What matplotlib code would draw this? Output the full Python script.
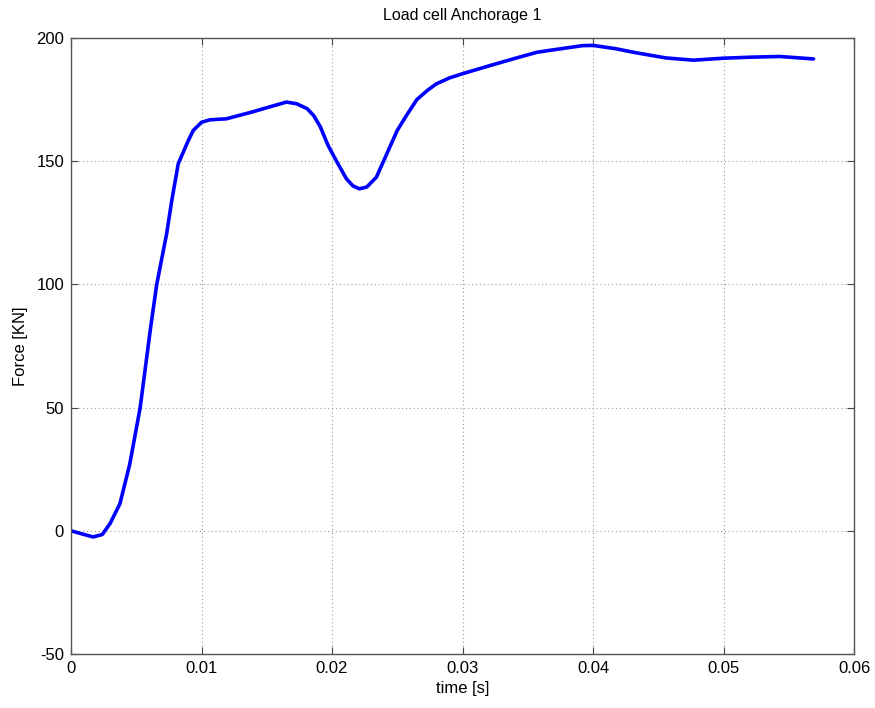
import matplotlib
matplotlib.use("Agg")
import matplotlib.pyplot as plt

# Load cell record, anchorage 1
time_s = [0.0, 0.0008, 0.0017, 0.0024, 0.0030, 0.00375, 0.0045, 0.0053, 0.0061,
          0.00657, 0.00733, 0.00772, 0.00822, 0.00899, 0.00937, 0.0100, 0.01065,
          0.0119, 0.0139, 0.0150, 0.0165, 0.0173, 0.0181, 0.0186, 0.0191,
          0.0197, 0.0204, 0.0211, 0.0216, 0.0221, 0.02266, 0.0234, 0.0242,
          0.0250, 0.0257, 0.0265, 0.0273, 0.0280, 0.0290, 0.0300, 0.0321,
          0.0342, 0.0357, 0.0367, 0.0392, 0.0400, 0.0418, 0.0431, 0.0444,
          0.0456, 0.0477, 0.0500, 0.0520, 0.0543, 0.0569]
force_kn = [0.0, -1.2, -2.5, -1.5, 3.0, 11.0, 27.0, 50.0, 82.5,
            100.0, 120.6, 134.0, 149.0, 158.4, 162.5, 165.8, 166.8,
            167.2, 170.0, 171.7, 174.0, 173.3, 171.3, 168.5, 164.0,
            156.4, 149.5, 142.9, 140.0, 138.8, 139.5, 143.5, 153.0,
            162.5, 168.5, 175.0, 178.7, 181.4, 183.8, 185.5, 188.8,
            192.0, 194.2, 195.0, 196.9, 197.0, 195.6, 194.2, 193.0,
            191.9, 191.0, 191.8, 192.2, 192.5, 191.5]

x_ticks = [0, 0.01, 0.02, 0.03, 0.04, 0.05, 0.06]
x_tick_labels = ["0", "0.01", "0.02", "0.03", "0.04", "0.05", "0.06"]
y_ticks = [-50, 0, 50, 100, 150, 200]

plt.rcParams["font.family"] = ["Liberation Sans", "DejaVu Sans"]
plt.rcParams["axes.unicode_minus"] = False

fig = plt.figure(figsize=(8.75, 7.08), dpi=100)
ax = fig.add_axes([71 / 875, 1 - 654 / 708, 783 / 875, 616 / 708])

ax.plot(time_s, force_kn, color="#0000ff", linewidth=2.6,
        solid_capstyle="round", solid_joinstyle="round")

ax.set_xlim(0, 0.06)
ax.set_ylim(-50, 200)
ax.set_xticks(x_ticks)
ax.set_xticklabels(x_tick_labels)
ax.set_yticks(y_ticks)
ax.tick_params(direction="in", length=5, width=0.8, colors="#444444",
               labelcolor="black", labelsize=12, pad=5,
               top=True, right=True)
ax.grid(True, linestyle=(0, (1, 2.5)), color="#999999", linewidth=0.8)
for s in ax.spines.values():
    s.set_color("#555555")
    s.set_linewidth(1.0)

ax.set_title("Load cell Anchorage 1", fontsize=11.5, pad=13)
ax.set_xlabel("time [s]", fontsize=12, labelpad=4)
ax.set_ylabel("Force [KN]", fontsize=12, labelpad=6)

fig.savefig("out.png", dpi=100)
